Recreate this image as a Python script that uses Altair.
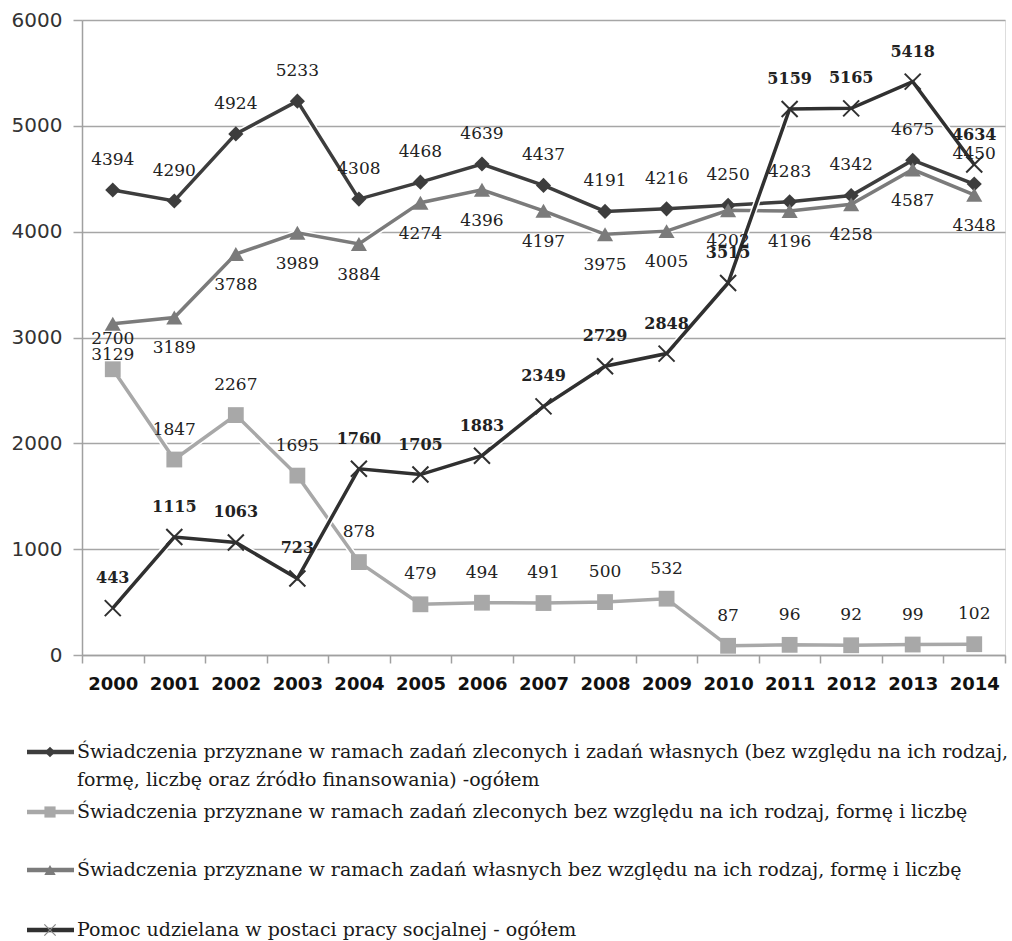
import altair as alt
import pandas as pd

# Values per year
years = [str(y) for y in range(2000, 2015)]
total = [4394, 4290, 4924, 5233, 4308, 4468, 4639, 4437, 4191, 4216, 4250, 4283, 4342, 4675, 4450]
zlecone = [2700, 1847, 2267, 1695, 878, 479, 494, 491, 500, 532, 87, 96, 92, 99, 102]
wlasne = [3129, 3189, 3788, 3989, 3884, 4274, 4396, 4197, 3975, 4005, 4202, 4196, 4258, 4587, 4348]
pomoc = [443, 1115, 1063, 723, 1760, 1705, 1883, 2349, 2729, 2848, 3515, 5159, 5165, 5418, 4634]

legend_lines = [
    ["Świadczenia przyznane w ramach zadań zleconych i zadań własnych (bez względu na ich rodzaj,",
     "formę, liczbę oraz źródło finansowania) -ogółem"],
    ["Świadczenia przyznane w ramach zadań zleconych bez względu na ich rodzaj, formę i liczbę"],
    ["Świadczenia przyznane w ramach zadań własnych bez względu na ich rodzaj, formę i liczbę"],
    ["Pomoc udzielana w postaci pracy socjalnej - ogółem"],
]

W, H = 923, 635
X_SHAPE = "M-1,-1L1,1M-1,1L1,-1"

series = [
    dict(values=total, color="#3d3d3d", shape="diamond", size=230, filled=True,
         dy=-30, weight="normal", legend_y=[732, 760]),
    dict(values=zlecone, color="#a8a8a8", shape="square", size=250, filled=True,
         dy=-30, weight="normal", legend_y=[792]),
    dict(values=wlasne, color="#7b7b7b", shape="triangle-up", size=260, filled=True,
         dy=31, weight="normal", legend_y=[850]),
    dict(values=pomoc, color="#303030", shape=X_SHAPE, size=256, filled=False,
         dy=-30, weight="bold", legend_y=[910]),
]

x_enc = alt.X(
    "year:O",
    scale=alt.Scale(type="band", paddingInner=0, paddingOuter=0),
    axis=alt.Axis(
        title=None, labelAngle=0, tickBand="extent", tickSize=8,
        tickColor="#a0a0a0", domainColor="#a0a0a0", domainWidth=1.5, tickWidth=1.5,
        labelFont="DejaVu Sans", labelFontWeight="bold", labelFontSize=18,
        labelColor="#111111", labelPadding=12, grid=False,
    ),
)
y_enc = alt.Y(
    "value:Q",
    scale=alt.Scale(domain=[0, 6000], nice=False),
    axis=alt.Axis(
        title=None, values=[0, 1000, 2000, 3000, 4000, 5000, 6000], format="d",
        grid=True, gridColor="#a6a6a6", gridWidth=1.5,
        domainColor="#a0a0a0", domainWidth=1.5, tickColor="#a6a6a6", tickWidth=1.5,
        tickSize=9, labelFont="DejaVu Sans", labelFontSize=20, labelColor="#333333",
        labelPadding=11,
    ),
)

lines, marks, labels, legend = [], [], [], []
dummy = pd.DataFrame({"k": [0]})

for s in series:
    df = pd.DataFrame({"year": years, "value": s["values"]})
    base = alt.Chart(df).encode(x=x_enc, y=y_enc)
    lines.append(base.mark_line(color="white", strokeWidth=6.5))
    lines.append(base.mark_line(color=s["color"], strokeWidth=3.5))
    if s["filled"]:
        marks.append(base.mark_point(shape=s["shape"], size=s["size"], filled=True,
                                     color=s["color"], opacity=1))
    else:
        marks.append(base.mark_point(shape=s["shape"], size=s["size"], filled=False,
                                     color=s["color"], strokeWidth=2, opacity=1))
    labels.append(
        base.mark_text(dy=s["dy"], font="DejaVu Serif",
                       fontSize=16 if s["weight"] == "bold" else 17,
                       fontWeight=s["weight"], color="#222222")
        .encode(text="value:Q")
    )

    # legend entry: line with its marker
    ly = s["legend_y"][0]
    legend.append(
        alt.Chart(dummy).mark_rule(color=s["color"], strokeWidth=4.5)
        .encode(x=alt.value(-55), x2=alt.value(-8), y=alt.value(ly))
    )
    if s["filled"]:
        legend.append(
            alt.Chart(dummy).mark_point(shape=s["shape"], size=s["size"] * 0.5,
                                        filled=True, color=s["color"], opacity=1)
            .encode(x=alt.value(-32), y=alt.value(ly))
        )
    else:
        legend.append(
            alt.Chart(dummy).mark_point(shape=s["shape"], size=s["size"] * 0.5,
                                        filled=False, color="#888888", strokeWidth=1.2,
                                        opacity=1)
            .encode(x=alt.value(-32), y=alt.value(ly))
        )

for s, txt in zip(series, legend_lines):
    for ly, t in zip(s["legend_y"], txt):
        legend.append(
            alt.Chart(dummy).mark_text(align="left", baseline="middle", font="DejaVu Serif",
                                       fontSize=19, color="#1a1a1a")
            .encode(x=alt.value(-5), y=alt.value(ly), text=alt.value(t))
        )

chart = alt.layer(*lines, *marks, *labels, *legend).properties(
    width=W, height=H,
    padding={"left": 82, "top": 20, "right": 7, "bottom": 286},
    autosize=alt.AutoSizeParams(type="none"),
).configure_view(stroke=None).configure(background="white")

chart.save("out.html", embed_options={"renderer": "svg", "actions": False})
